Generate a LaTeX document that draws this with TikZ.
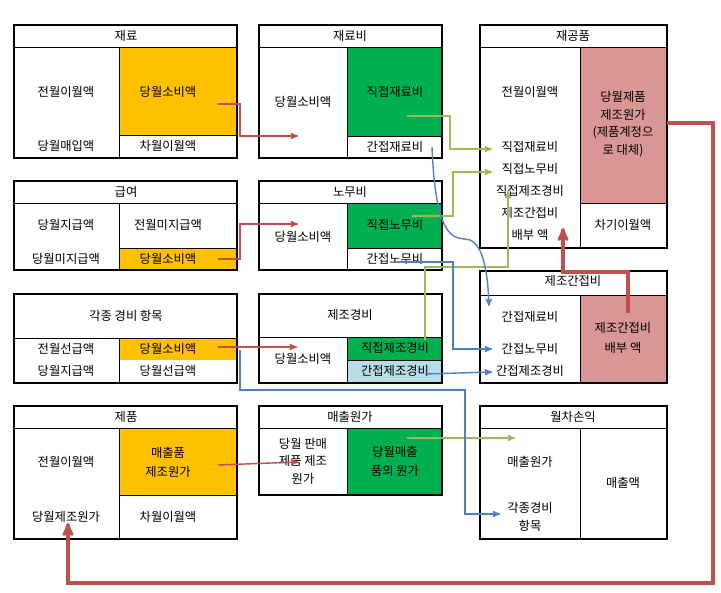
\documentclass[tikz,border=0pt]{standalone}
\usepackage{fontspec}
\setmainfont{Noto Sans CJK KR}
\usetikzlibrary{arrows,calc}
\definecolor{acOrange}{HTML}{FFC000}
\definecolor{acGreen}{HTML}{00B050}
\definecolor{acPink}{HTML}{D99694}
\definecolor{acBlue}{HTML}{B7DDE8}
\definecolor{lnRed}{HTML}{C0504D}
\definecolor{lnGreen}{HTML}{9BBB59}
\definecolor{lnBlue}{HTML}{4F81BD}
\tikzset{
  txt/.style={font=\fontsize{10.5}{13}\selectfont, align=center, inner sep=0pt},
  frame/.style={draw=black, line width=1.6pt},
  rule/.style={draw=black, line width=0.8pt},
  redln/.style={draw=lnRed, line width=1.2pt, ->, >=stealth'},
  fatred/.style={draw=lnRed, line width=2.6pt, ->, >=stealth'},
  greenln/.style={draw=lnGreen, line width=1.2pt, ->, >=stealth'},
  blueln/.style={draw=lnBlue, line width=1.2pt, ->, >=stealth'}
}
\begin{document}
\begin{tikzpicture}[x=0.03cm,y=-0.03cm]
		\useasboundingbox (0,0) rectangle (721,593);
		% fills
		\fill[acOrange] (119,47) rectangle (237,135);
		\fill[acGreen] (347,47) rectangle (442,136);
		\fill[acPink] (580,47) rectangle (667,203);
		\fill[acOrange] (119,248) rectangle (237,270);
		\fill[acGreen] (347,203) rectangle (442,248);
		\fill[acPink] (580,295) rectangle (667,383);
		\fill[acOrange] (119,338) rectangle (237,360);
		\fill[acGreen] (347,337) rectangle (442,360);
		\fill[acBlue] (347,360) rectangle (442,383);
		\fill[acOrange] (119,428) rectangle (237,495);
		\fill[acGreen] (347,428) rectangle (442,495);
		
		% row 1
		\draw[rule] (14,47) -- (237,47) (119,47) -- (119,158) (119,135) -- (237,135);
		\draw[frame] (14,25) rectangle (237,158);
		\draw[rule] (259,47) -- (442,47) (347,47) -- (347,158) (347,136) -- (442,136);
		\draw[frame] (259,25) rectangle (442,158);
		\draw[rule] (480,47) -- (667,47) (580,47) -- (580,248) (580,203) -- (667,203);
		\draw[frame] (480,25) rectangle (667,248);
		
		% row 2
		\draw[rule] (14,203) -- (237,203) (119,203) -- (119,270) (119,248) -- (237,248);
		\draw[frame] (14,181) rectangle (237,270);
		\draw[rule] (259,203) -- (442,203) (347,203) -- (347,270) (347,248) -- (442,248);
		\draw[frame] (259,181) rectangle (442,270);
		\draw[rule] (480,295) -- (667,295) (580,295) -- (580,383);
		\draw[frame] (480,271) rectangle (667,383);
		
		% row 3
		\draw[rule] (14,338) -- (237,338) (119,338) -- (119,383);
		\draw[frame] (14,294) rectangle (237,383);
		\draw[rule] (259,337) -- (442,337) (347,337) -- (347,383) (347,360) -- (442,360);
		\draw[frame] (259,294) rectangle (442,383);
		
		% row 4
		\draw[rule] (14,428) -- (237,428) (119,428) -- (119,539) (119,495) -- (237,495);
		\draw[frame] (14,406) rectangle (237,539);
		\draw[rule] (259,428) -- (442,428) (347,428) -- (347,495);
		\draw[frame] (259,406) rectangle (442,495);
		\draw[rule] (480,428) -- (667,428) (580,428) -- (580,539);
		\draw[frame] (480,406) rectangle (667,539);
		
		% texts
		\node[txt] (jr) at (126,36) {재료};
		\node[txt] at (66,92) {전월이월액};
		\node[txt] at (66,146) {당월매입액};
		\node[txt] (jrSo) at (168,92) {당월소비액};
		\node[txt] at (168,146) {차월이월액};
		
		\node[txt] at (350,36) {재료비};
		\node[txt] at (303,102) {당월소비액};
		\node[txt] (jrJik) at (395,92) {직접재료비};
		\node[txt] (jrGan) at (395,147) {간접재료비};
		
		\node[txt] at (573,36) {재공품};
		\node[txt] at (530,92) {전월이월액};
		\node[txt] at (530,147) {직접재료비};
		\node[txt] at (530,169) {직접노무비};
		\node[txt] at (530,191) {직접제조경비};
		\node[txt] at (530,213) {제조간접비};
		\node[txt] at (530,235) {배부 액};
		\node[txt] at (623,124) {당월제품\\[2pt]제조원가\\[2pt](제품계정으\\[2pt]로 대체)};
		\node[txt] at (623,225) {차기이월액};
		
		\node[txt] at (126,192) {급여};
		\node[txt] at (66,225) {당월지급액};
		\node[txt] at (168,225) {전월미지급액};
		\node[txt] at (66,259) {당월미지급액};
		\node[txt] at (168,259) {당월소비액};
		
		\node[txt] at (350,192) {노무비};
		\node[txt] at (303,237) {당월소비액};
		\node[txt] at (395,225) {직접노무비};
		\node[txt] at (395,259) {간접노무비};
		
		\node[txt] at (573,281) {제조간접비};
		\node[txt] at (530,317) {간접재료비};
		\node[txt] at (530,349) {간접노무비};
		\node[txt] at (530,371) {간접제조경비};
		\node[txt] at (623,338) {제조간접비\\[4pt]배부 액};
		
		\node[txt] at (126,316) {각종 경비 항목};
		\node[txt] at (66,349) {전월선급액};
		\node[txt] at (168,349) {당월소비액};
		\node[txt] at (66,371) {당월지급액};
		\node[txt] at (168,371) {당월선급액};
		
		\node[txt] at (350,315) {제조경비};
		\node[txt] at (303,359) {당월소비액};
		\node[txt] at (395,348) {직접제조경비};
		\node[txt] at (395,371) {간접제조경비};
		
		\node[txt] at (126,417) {제품};
		\node[txt] at (66,462) {전월이월액};
		\node[txt] at (66,517) {당월제조원가};
		\node[txt] at (168,462) {매출품\\[3pt]제조원가};
		\node[txt] at (168,517) {차월이월액};
		
		\node[txt] at (350,417) {매출원가};
		\node[txt] at (303,461) {당월 판매\\[2pt]제품 제조\\[2pt]원가};
		\node[txt] at (395,461) {당월매출\\[3pt]품의 원가};
		
		\node[txt] at (573,417) {월차손익};
		\node[txt] at (530,462) {매출원가};
		\node[txt] at (530,517) {각종경비\\[3pt]항목};
		\node[txt] at (623,483) {매출액};
		
		% red flows
		\draw[redln] (218,104) -- (240,104) -- (240,136) -- (298,136);
		\draw[redln] (218,259) -- (240,259) -- (240,224) -- (298,224);
		\draw[redln] (218,347) -- (297,347);
		\draw[redln] (218,465) -- (298,462);
		\draw[fatred] (667,123) -- (713,123) -- (713,583) -- (68,583) -- (68,523);
		\draw[fatred] (628,313) -- (628,272) -- (563,272) -- (563,228);
		
		% green flows
		\draw[greenln] (407,116) -- (450,116) -- (450,149) -- (492,149);
		\draw[greenln] (412,216) -- (453,216) -- (453,172) -- (492,172);
		\draw[greenln] (425,340) -- (425,267) -- (508,267) -- (508,191);
		\draw[greenln] (407,438) -- (515,438);
		
		% blue flows
		\draw[blueln] (432,147) .. controls (436,250) and (458,236) .. (470,240) .. controls (485,246) and (488,280) .. (489,306);
		\draw[blueln] (398,262) -- (453,262) -- (453,349) -- (492,349);
		\draw[blueln] (425,374) -- (492,372);
		\draw[blueln] (240,350) -- (240,390) -- (465,390) -- (465,514) -- (500,514);
\end{tikzpicture}
\end{document}
